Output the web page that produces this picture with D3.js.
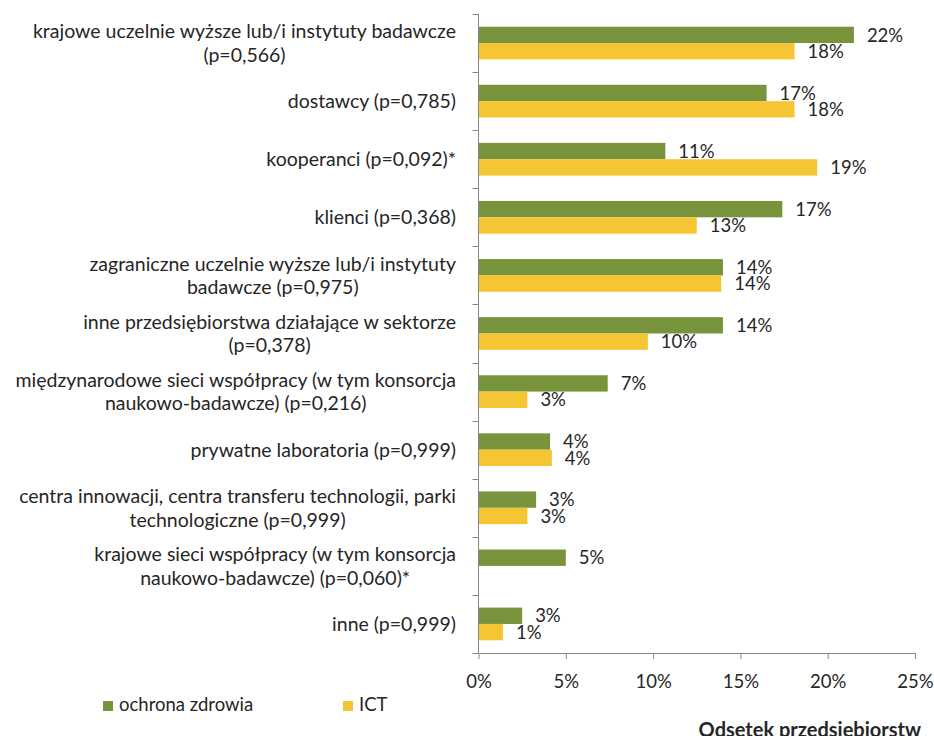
<!DOCTYPE html>
<html>
<head>
<meta charset="utf-8">
<script src="https://cdn.jsdelivr.net/npm/d3@7"></script>
<style>
  body { margin: 0; background: #fff; }
  svg { display: block; }
  text { font-family: Lato, "Open Sans", sans-serif; }
</style>
</head>
<body>
<svg id="chart" width="934" height="736"></svg>
<script>
// Categories (line breaks mark where the label wraps)
const categories = [
  "krajowe uczelnie wyższe lub/i instytuty badawcze\n(p=0,566)",
  "dostawcy (p=0,785)",
  "kooperanci (p=0,092)*",
  "klienci (p=0,368)",
  "zagraniczne uczelnie wyższe lub/i instytuty\nbadawcze (p=0,975)",
  "inne przedsiębiorstwa działające w sektorze\n(p=0,378)",
  "międzynarodowe sieci współpracy (w tym konsorcja\nnaukowo-badawcze) (p=0,216)",
  "prywatne laboratoria (p=0,999)",
  "centra innowacji, centra transferu technologii, parki\ntechnologiczne (p=0,999)",
  "krajowe sieci współpracy (w tym konsorcja\nnaukowo-badawcze) (p=0,060)*",
  "inne (p=0,999)"
];
const seriesNames = ["ochrona zdrowia", "ICT"];
// Share of companies, in percent
const healthValues = [21.5, 16.5, 10.7, 17.4, 14.0, 14.0, 7.4, 4.1, 3.3, 5.0, 2.5];
const ictValues    = [18.1, 18.1, 19.4, 12.5, 13.9, 9.7, 2.8, 4.2, 2.8, null, 1.4];
const xTicks = [0, 5, 10, 15, 20, 25];
const seriesColors = ["#77933C", "#F5C533"];
const axisTitle = "Odsetek przedsiębiorstw";

const series = [healthValues, ictValues];
const svg = d3.select("#chart");
const textColor = "#262626";
const axisColor = "#868686";
const fontSize = 18.5;
const categoryFontSize = 19.5;

const plot = { left: 478.5, right: 915, top: 14, bottom: 653 };

const x = d3.scaleLinear().domain([0, 25]).range([plot.left, plot.right]);
const y = d3.scaleBand()
  .domain(d3.range(categories.length))
  .range([plot.top, plot.bottom])
  .paddingInner(0.4375)
  .paddingOuter(0.21875);
const ySub = d3.scaleBand().domain(d3.range(series.length)).range([0, y.bandwidth()]);
const edges = d3.scaleLinear().domain([0, categories.length]).range([plot.top, plot.bottom]);

// Bars
const groups = svg.append("g").selectAll("g")
  .data(categories.map((c, i) => i))
  .join("g")
  .attr("transform", i => `translate(0,${y(i)})`);

groups.selectAll("rect")
  .data(i => series.map((s, k) => ({ k, v: s[i] })).filter(d => d.v != null))
  .join("rect")
  .attr("x", x(0))
  .attr("y", d => ySub(d.k))
  .attr("width", d => x(d.v) - x(0))
  .attr("height", ySub.bandwidth())
  .attr("fill", d => seriesColors[d.k]);

// Value labels
groups.selectAll("text")
  .data(i => series.map((s, k) => ({ k, v: s[i] })).filter(d => d.v != null))
  .join("text")
  .attr("x", d => x(d.v) + 13)
  .attr("y", d => ySub(d.k) + ySub.bandwidth() / 2)
  .attr("dy", "0.36em")
  .attr("font-size", fontSize)
  .attr("fill", textColor)
  .text(d => Math.round(d.v) + "%");

// Bottom axis
const xAxis = svg.append("g")
  .attr("transform", `translate(0,${plot.bottom})`)
  .call(d3.axisBottom(x).tickValues(xTicks).tickFormat(d => d + "%")
    .tickSize(6).tickSizeOuter(0).tickPadding(16));
xAxis.select(".domain").attr("stroke", axisColor);
xAxis.selectAll(".tick line").attr("stroke", axisColor);
xAxis.selectAll(".tick text")
  .attr("font-size", fontSize)
  .attr("font-family", "Lato, 'Open Sans', sans-serif")
  .attr("fill", textColor);

// Left axis with ticks between the categories
const yAxis = svg.append("g");
yAxis.append("line")
  .attr("x1", x(0)).attr("x2", x(0))
  .attr("y1", plot.top).attr("y2", plot.bottom)
  .attr("stroke", axisColor);
yAxis.selectAll(".edge")
  .data(d3.range(categories.length + 1))
  .join("line")
  .attr("class", "edge")
  .attr("x1", x(0) - 6).attr("x2", x(0))
  .attr("y1", k => Math.round(edges(k)) + 0.5)
  .attr("y2", k => Math.round(edges(k)) + 0.5)
  .attr("stroke", axisColor);

// Category labels: right-aligned block, lines centred on each other
const labelRight = 456;
const lineHeight = 23.5;
categories.forEach((c, i) => {
  const lines = c.split("\n");
  const center = y(i) + y.bandwidth() / 2;
  const g = svg.append("g");
  const texts = lines.map((line, j) =>
    g.append("text")
      .attr("y", center + (j - (lines.length - 1) / 2) * lineHeight)
      .attr("dy", "0.36em")
      .attr("text-anchor", "middle")
      .attr("font-size", categoryFontSize)
      .attr("fill", textColor)
      .text(line));
  const maxW = d3.max(texts, t => t.node().getComputedTextLength());
  texts.forEach(t => t.attr("x", labelRight - maxW / 2));
});

// Legend
const legendItems = [
  { name: seriesNames[0], color: seriesColors[0], x: 103 },
  { name: seriesNames[1], color: seriesColors[1], x: 343 }
];
const legend = svg.append("g");
legendItems.forEach(it => {
  legend.append("rect")
    .attr("x", it.x).attr("y", 701)
    .attr("width", 10).attr("height", 10)
    .attr("fill", it.color);
  legend.append("text")
    .attr("x", it.x + 16).attr("y", 711)
    .attr("font-size", fontSize)
    .attr("fill", textColor)
    .text(it.name);
});

// Axis title, set low so that it runs off the bottom edge
svg.append("text")
  .attr("x", 921)
  .attr("y", 736.5)
  .attr("text-anchor", "end")
  .attr("font-size", 20)
  .attr("font-weight", "bold")
  .attr("fill", textColor)
  .text(axisTitle);
</script>
</body>
</html>
